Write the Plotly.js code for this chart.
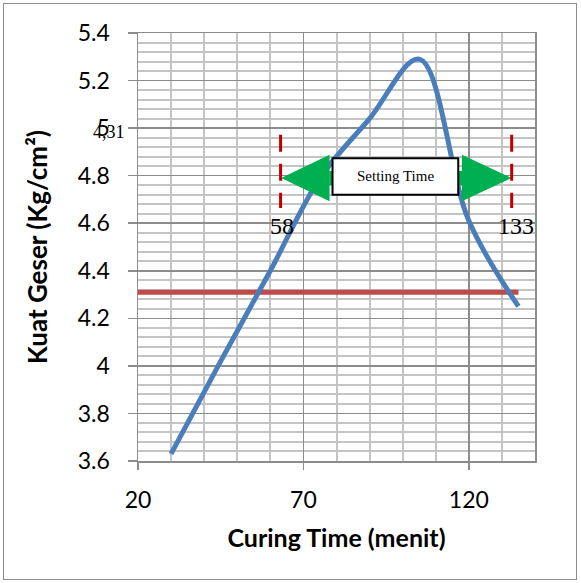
<!DOCTYPE html>
<html>
<head>
<meta charset="utf-8">
<script src="https://cdn.plot.ly/plotly-3.0.1.min.js"></script>
<style>
  html, body { margin: 0; padding: 0; background: #ffffff; }
  #wrap { position: relative; width: 581px; height: 583px; }
  #chart { width: 581px; height: 583px; }
  #frame { position: absolute; left: 3px; top: 3px; width: 572px; height: 575px;
           border: 1px solid #8c8c8c; pointer-events: none; }
</style>
</head>
<body>
<div id="wrap">
  <div id="chart"></div>
  <div id="frame"></div>
</div>
<script>
// ---- data ----
const curingTime = [30, 45, 60, 75, 90, 105, 120, 135];
const kuatGeser  = [3.63, 4.02, 4.40, 4.79, 5.04, 5.29, 4.61, 4.25];
const batasX = [20, 135];
const batasY = [4.31, 4.31];
const batasLabel = "4,31";
const settingStart = 58;
const settingEnd = 133;
const settingLabel = "Setting Time";
const xTitle = "Curing Time (menit)";
const yTitle = "Kuat Geser (Kg/cm²)";

const tickFont = {family: "Lato, 'Open Sans', sans-serif", size: 23, color: "#000"};
const xTitleFont = {family: "Lato, 'Open Sans', sans-serif", size: 25, color: "#000", weight: "bold"};
const yTitleFont = {family: "Lato, 'Open Sans', sans-serif", size: 26, color: "#000", weight: "bold"};

const traces = [
  {x: batasX, y: batasY, type: "scatter", mode: "lines",
   line: {color: "#BE4B48", width: 5}, hoverinfo: "skip", showlegend: false},
  {x: curingTime, y: kuatGeser, type: "scatter", mode: "lines",
   line: {color: "#4A7EBB", width: 5, shape: "spline", smoothing: 1}, showlegend: false}
];

const green = "#00B050";
const dashRed = "#C00000";
const shapes = [
  // shaft of the double arrow
  {type: "rect", xref: "x", yref: "y", x0: 77.8, x1: 118, y0: 4.76, y1: 4.82,
   fillcolor: green, line: {width: 0}, layer: "above"},
  // left arrowhead
  {type: "path", xref: "x", yref: "y", path: "M 63.3 4.79 L 77.9 4.888 L 77.9 4.692 Z",
   fillcolor: green, line: {width: 0}, layer: "above"},
  // right arrowhead
  {type: "path", xref: "x", yref: "y", path: "M 132.9 4.79 L 117.9 4.888 L 117.9 4.692 Z",
   fillcolor: green, line: {width: 0}, layer: "above"},
  // text box
  {type: "rect", xref: "x", yref: "y", x0: 78.8, x1: 116.8, y0: 4.72, y1: 4.873,
   fillcolor: "#ffffff", line: {color: "#000", width: 2}, layer: "above"},
  // dashed markers (drawn from the top down)
  {type: "line", xref: "x", yref: "y", x0: 63.1, x1: 63.1, y0: 4.972, y1: 4.664,
   line: {color: dashRed, width: 3, dash: "17px,12px"}, layer: "above"},
  {type: "line", xref: "x", yref: "y", x0: 132.95, x1: 132.95, y0: 4.972, y1: 4.664,
   line: {color: dashRed, width: 3, dash: "17px,12px"}, layer: "above"}
];

const annotations = [
  {xref: "x", yref: "y", x: 97.8, y: 4.797, text: settingLabel, showarrow: false,
   xanchor: "center", yanchor: "middle",
   font: {family: "'Liberation Serif', 'Times New Roman', serif", size: 15, color: "#000"}},
  {xref: "x", yref: "y", x: 63.4, y: 4.59, text: String(settingStart), showarrow: false,
   xanchor: "center", yanchor: "middle",
   font: {family: "'Liberation Serif', 'Times New Roman', serif", size: 24, color: "#000"}},
  {xref: "x", yref: "y", x: 134.3, y: 4.59, text: String(settingEnd), showarrow: false,
   xanchor: "center", yanchor: "middle",
   font: {family: "'Liberation Serif', 'Times New Roman', serif", size: 24, color: "#000"}},
  {xref: "paper", yref: "y", x: -0.073, y: 4.985, text: batasLabel, showarrow: false,
   xanchor: "center", yanchor: "middle",
   font: {family: "'Liberation Serif', 'Times New Roman', serif", size: 18, color: "#000"}}
];

const layout = {
  width: 581, height: 583,
  margin: {l: 138, r: 46, t: 33, b: 122},
  paper_bgcolor: "#ffffff", plot_bgcolor: "#ffffff",
  showlegend: false,
  xaxis: {
    range: [20, 140], tickmode: "linear", tick0: 20, dtick: 50,
    showgrid: true, gridcolor: "#8c8c8c", gridwidth: 1.5,
    minor: {dtick: 10, showgrid: true, gridcolor: "#c4c4c4", gridwidth: 2},
    showline: true, linecolor: "#8c8c8c", linewidth: 1.5, mirror: true,
    ticks: "outside", ticklen: 7, tickcolor: "#8c8c8c", tickwidth: 1.5,
    ticklabelstandoff: 11,
    tickfont: tickFont, zeroline: false,
    title: {text: xTitle, font: xTitleFont, standoff: 17}
  },
  yaxis: {
    range: [3.6, 5.4], tickmode: "linear", tick0: 3.6, dtick: 0.2,
    showgrid: true, gridcolor: "#8c8c8c", gridwidth: 1.5,
    minor: {dtick: 0.04, showgrid: true, gridcolor: "#c4c4c4", gridwidth: 2},
    showline: true, linecolor: "#8c8c8c", linewidth: 1.5, mirror: true,
    ticks: "outside", ticklen: 9, tickcolor: "#8c8c8c", tickwidth: 1.5,
    ticklabelstandoff: 13,
    tickfont: tickFont, zeroline: false,
    title: {text: yTitle, font: yTitleFont, standoff: 22}
  },
  shapes: shapes,
  annotations: annotations
};

Plotly.newPlot("chart", traces, layout, {staticPlot: true, displayModeBar: false});
</script>
</body>
</html>
